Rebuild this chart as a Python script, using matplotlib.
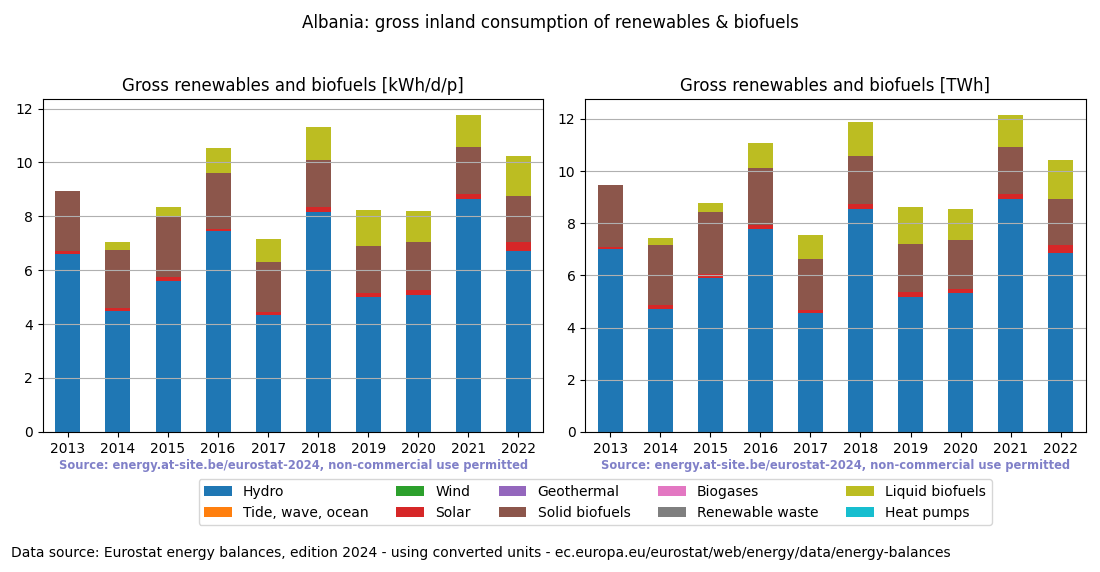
import numpy as np
import matplotlib
matplotlib.use('Agg')
import matplotlib.pyplot as plt

years = ['2013', '2014', '2015', '2016', '2017', '2018', '2019', '2020', '2021', '2022']
categories = ['Hydro', 'Tide, wave, ocean', 'Wind', 'Solar', 'Geothermal',
              'Solid biofuels', 'Biogases', 'Renewable waste', 'Liquid biofuels', 'Heat pumps']

# kWh/d/p
hydro_pp = [6.62, 4.49, 5.61, 7.44, 4.32, 8.18, 4.99, 5.09, 8.65, 6.72]
solar_pp = [0.10, 0.11, 0.14, 0.10, 0.14, 0.15, 0.17, 0.18, 0.19, 0.33]
solid_pp = [2.23, 2.16, 2.26, 2.08, 1.85, 1.77, 1.75, 1.78, 1.74, 1.71]
liquid_pp = [0.00, 0.29, 0.34, 0.92, 0.86, 1.22, 1.33, 1.16, 1.19, 1.49]

# TWh
hydro_twh = [7.00, 4.72, 5.92, 7.79, 4.54, 8.55, 5.18, 5.31, 8.94, 6.87]
solar_twh = [0.10, 0.15, 0.15, 0.15, 0.15, 0.20, 0.20, 0.18, 0.19, 0.30]
solid_twh = [2.38, 2.28, 2.37, 2.19, 1.95, 1.84, 1.83, 1.88, 1.80, 1.77]
liquid_twh = [0.00, 0.29, 0.35, 0.96, 0.92, 1.30, 1.42, 1.18, 1.23, 1.49]

zeros = [0.0] * len(years)
colors = plt.cm.tab10.colors


def series(hydro, solar, solid, liquid):
    return [hydro, zeros, zeros, solar, zeros, solid, zeros, zeros, liquid, zeros]


fig = plt.figure(figsize=(11, 5.72), dpi=100)
fig.suptitle('Albania: gross inland consumption of renewables & biofuels', fontsize=12, y=0.975)

ax1 = fig.add_axes([0.039, 0.245, 0.455, 0.582])
ax2 = fig.add_axes([0.532, 0.245, 0.455, 0.582])

panels = [(ax1, series(hydro_pp, solar_pp, solid_pp, liquid_pp), 'Gross renewables and biofuels [kWh/d/p]'),
          (ax2, series(hydro_twh, solar_twh, solid_twh, liquid_twh), 'Gross renewables and biofuels [TWh]')]

for ax, data, title in panels:
    bottom = np.zeros(len(years))
    for name, vals, c in zip(categories, data, colors):
        ax.bar(years, vals, 0.5, bottom=bottom, color=c, label=name)
        bottom += np.array(vals)
    ax.set_xlim(-0.5, len(years) - 0.5)
    ax.set_ylim(0, bottom.max() * 1.05)
    ax.set_title(title, fontsize=12)
    ax.grid(axis='y', color='#b0b0b0')
    pos = ax.get_position()
    fig.text((pos.x0 + pos.x1) / 2, 0.187,
             'Source: energy.at-site.be/eurostat-2024, non-commercial use permitted',
             ha='center', va='center', fontsize=8.3, fontweight='bold', color='#8080c8')

handles, labels = ax1.get_legend_handles_labels()
fig.legend(handles, labels, loc='center', bbox_to_anchor=(0.541, 0.122), ncol=5, fontsize=10)

fig.text(0.01, 0.033, 'Data source: Eurostat energy balances, edition 2024 - using converted units - ec.europa.eu/eurostat/web/energy/data/energy-balances',
         fontsize=10, va='center')

plt.savefig('out.png')
